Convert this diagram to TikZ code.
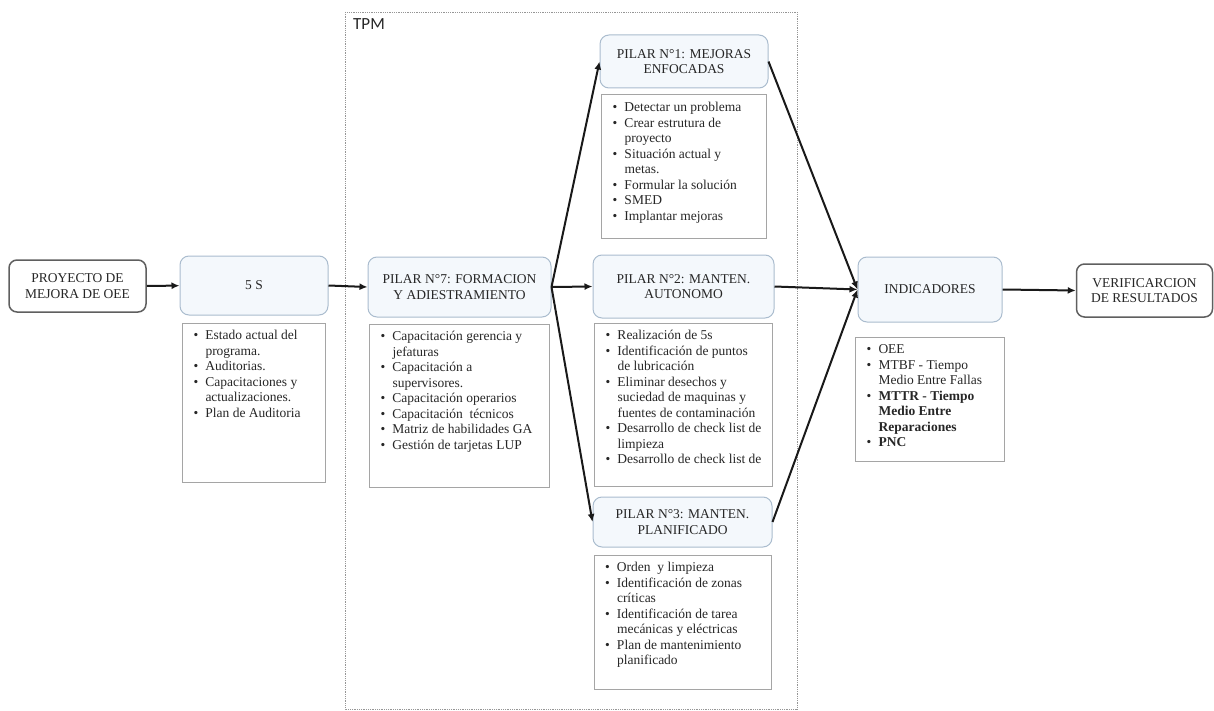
\documentclass[tikz,border=0pt]{standalone}
\usepackage{fontspec}
\setmainfont{Liberation Serif}
\newfontfamily\tpmfont{Carlito}
\usetikzlibrary{positioning,arrows.meta}
\definecolor{hdrfill}{RGB}{244,248,252}
\definecolor{hdrline}{RGB}{170,188,206}
\definecolor{boxline}{RGB}{95,95,95}
\definecolor{listline}{RGB}{165,165,165}
\definecolor{tpmline}{RGB}{150,150,150}
\definecolor{arrline}{RGB}{25,25,25}
\newcommand{\bul}{\par\noindent\hangindent=17pt\hangafter=1\makebox[17pt][l]{\hspace{5pt}\strut\textbullet}}
\newcommand{\lista}[3]{\begin{minipage}[t][#2][t]{#1}#3\end{minipage}}

\begin{document}
\begin{tikzpicture}[
  x=1pt, y=-1pt,
  node distance=6pt,
  font=\fontsize{13.5}{15.5}\selectfont,
  text=black!85,
  hdr/.style={rectangle, rounded corners=9pt, draw=hdrline, fill=hdrfill,
              line width=1pt, align=center},
  endbox/.style={rectangle, rounded corners=8pt, draw=boxline, fill=white,
                 line width=1.5pt, align=center},
  lst/.style={rectangle, draw=listline, line width=0.8pt, inner xsep=6pt, inner ysep=6pt},
  frame/.style={draw=tpmline, densely dotted, line width=0.8pt},
  arr/.style={-{Latex[length=8pt,width=7pt]}, line width=2pt, draw=arrline}
]
\useasboundingbox (0,0) rectangle (1214,711);

% TPM frame
\draw[frame] (345,12) rectangle (797,709);
\node[anchor=north west, inner sep=0pt, font=\tpmfont\fontsize{17}{19}\selectfont] (tpm) at (353,18) {TPM};

\node[endbox, minimum width=137pt, minimum height=52pt] (pro) at (77.5,286) {PROYECTO DE\\MEJORA DE OEE};
\node[hdr, minimum width=148pt, minimum height=59pt] (s5) at (254,285.5) {5 S};
\node[lst, below=7pt of s5] (l5) {\lista{131pt}{147pt}{%
  \bul Estado actual del\newline programa.
  \bul Auditorias.
  \bul Capacitaciones y\newline actualizaciones.
  \bul Plan de Auditoria}};

\node[hdr, minimum width=183pt, minimum height=60pt] (p7) at (459.5,287) {PILAR N°7: FORMACION\\Y ADIESTRAMIENTO};
\node[lst, below=6pt of p7] (l7) {\lista{168pt}{151pt}{%
  \bul Capacitación gerencia y\newline jefaturas
  \bul Capacitación a\newline supervisores.
  \bul Capacitación operarios
  \bul Capacitación\ \ técnicos
  \bul Matriz de habilidades GA
  \bul Gestión de tarjetas LUP}};

\node[hdr, minimum width=168pt, minimum height=53pt] (p1) at (684,61.5) {PILAR N°1: MEJORAS\\ENFOCADAS};
\node[lst, below=6pt of p1] (l1) {\lista{153pt}{132pt}{%
  \bul Detectar un problema
  \bul Crear estrutura de\newline proyecto
  \bul Situación actual y\newline metas.
  \bul Formular la solución
  \bul SMED
  \bul Implantar mejoras}};

\node[hdr, minimum width=181pt, minimum height=63pt] (p2) at (683.5,286.5) {PILAR N°2: MANTEN.\\AUTONOMO};
\node[lst, below=4pt of p2] (l2) {\lista{166pt}{151pt}{%
  \bul Realización de 5s
  \bul Identificación de puntos\newline de lubricación
  \bul Eliminar desechos y\newline suciedad de maquinas y\newline fuentes de contaminación
  \bul Desarrollo de check list de\newline limpieza
  \bul Desarrollo de check list de}};

\node[hdr, minimum width=179pt, minimum height=50pt] (p3) at (682.5,522) {PILAR N°3: MANTEN.\\PLANIFICADO};
\node[lst, below=7pt of p3] (l3) {\lista{165pt}{122pt}{%
  \bul Orden\ \ y limpieza
  \bul Identificación de zonas\newline críticas
  \bul Identificación de tarea\newline mecánicas y eléctricas
  \bul Plan de mantenimiento\newline planificado}};

\node[hdr, minimum width=144pt, minimum height=65pt] (ind) at (930,289.5) {INDICADORES};
\node[lst, below=14pt of ind] (li) {\lista{137pt}{112pt}{%
  \bul OEE
  \bul MTBF - Tiempo\newline Medio Entre Fallas
  \bul \textbf{MTTR - Tiempo}\newline\textbf{Medio Entre}\newline\textbf{Reparaciones}
  \bul \textbf{PNC}}};

\node[endbox, minimum width=136pt, minimum height=53pt] (ver) at (1144.5,290.5) {VERIFICARCION\\DE RESULTADOS};

\draw[arr] (pro) -- (s5);
\draw[arr] (s5.east) -- (p7.west);
\draw[arr] (p7.east) -- (p1.west);
\draw[arr] (p7.east) -- (p2.west);
\draw[arr] (p7.east) -- (p3.west);
\draw[arr] (p1.east) -- (ind.west);
\draw[arr] (p2.east) -- (ind.west);
\draw[arr] (p3.east) -- (ind.west);
\draw[arr] (ind.east) -- (ver.west);
\end{tikzpicture}
\end{document}
